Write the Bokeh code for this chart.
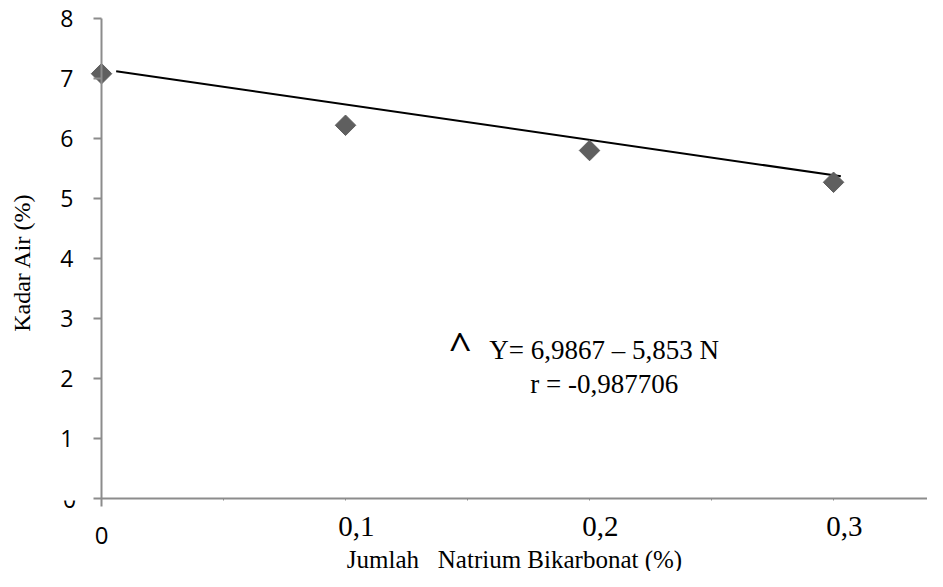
import math
from bokeh.plotting import figure
from bokeh.models import Range1d, FixedTicker, Label
from bokeh.embed import file_html
from bokeh.resources import INLINE

# data
natrium = [0.0, 0.1, 0.2, 0.3]
kadar_air = [7.08, 6.22, 5.80, 5.27]
trend_x = [0.006, 0.303]
trend_y = [7.12, 5.37]
x_ticks = [0.0, 0.1, 0.2, 0.3]
x_tick_labels = {0.0: "", 0.1: "\u00a0\u00a0\u00a00,1", 0.2: "\u00a0\u00a0\u00a00,2", 0.3: "\u00a0\u00a0\u00a00,3"}
y_ticks = [0, 1, 2, 3, 4, 5, 6, 7, 8]
equation = "Y= 6,9867 \u2013 5,853 N"
r_text = "r = -0,987706"

AXIS_GRAY = "#8c8c8c"

# frame covers the whole canvas; axes are pinned at x=0 / y=0
p = figure(width=927, height=571, output_backend="svg", toolbar_location=None,
           x_range=Range1d(-0.0414, 0.3385), y_range=Range1d(-1.2167, 8.3),
           min_border=0, min_border_left=0, min_border_right=0,
           min_border_top=0, min_border_bottom=0)
p.outline_line_color = None
p.grid.visible = False
p.background_fill_color = "white"
p.title.visible = False

# x axis
xa = p.xaxis[0]
xa.fixed_location = 0
xa.bounds = (0, 0.3385)
xa.ticker = FixedTicker(ticks=x_ticks, minor_ticks=[0.05, 0.15, 0.25])
xa.major_label_overrides = x_tick_labels
xa.axis_line_color = AXIS_GRAY
xa.axis_line_width = 2
xa.major_tick_line_color = AXIS_GRAY
xa.major_tick_in = 0
xa.major_tick_out = 2
xa.minor_tick_line_color = AXIS_GRAY
xa.minor_tick_in = 0
xa.minor_tick_out = 2
xa.major_label_text_font = "Liberation Serif"
xa.major_label_text_font_size = "29px"
xa.major_label_text_color = "black"
xa.major_label_standoff = 10
xa.axis_label = "Jumlah\u00a0\u00a0 Natrium Bikarbonat (%)"
xa.axis_label_text_font = "Liberation Serif"
xa.axis_label_text_font_size = "25px"
xa.axis_label_text_font_style = "normal"
xa.axis_label_text_color = "black"
xa.axis_label_standoff = 0

# y axis
ya = p.yaxis[0]
ya.fixed_location = 0
ya.bounds = (-0.14, 8)
ya.ticker = FixedTicker(ticks=y_ticks, minor_ticks=[])
ya.major_label_overrides = {0: ""}
ya.axis_line_color = AXIS_GRAY
ya.axis_line_width = 2
ya.major_tick_line_color = AXIS_GRAY
ya.major_tick_line_width = 2
ya.major_tick_in = 0
ya.major_tick_out = 8
ya.major_label_text_font = "Open Sans"
ya.major_label_text_font_size = "23px"
ya.major_label_text_color = "black"
ya.major_label_standoff = 20
ya.axis_label = "Kadar Air (%)"
ya.axis_label_text_font = "Liberation Serif"
ya.axis_label_text_font_size = "24px"
ya.axis_label_text_font_style = "normal"
ya.axis_label_text_color = "black"
ya.axis_label_standoff = 22

# trend line and points
p.line(trend_x, trend_y, line_color="black", line_width=2)
p.scatter(natrium, kadar_air, marker="square", size=14.5, angle=math.pi / 4,
          fill_color="#5f5f5f", line_color="#5f5f5f")

# x tick "0" in sans
p.add_layout(Label(x=0, y=0, y_offset=-37,
                   text="0", text_align="center", text_baseline="middle",
                   text_font="Open Sans", text_font_size="24px",
                   text_color="black"))
# partially hidden y "0"
p.add_layout(Label(x=-0.0131, y=0, y_offset=-1,
                   text="0", text_align="center", text_baseline="middle",
                   text_font="Open Sans", text_font_size="23px",
                   text_color="black"))
p.add_layout(Label(x=-0.0131, y=0, y_offset=-2,
                   text="\u00a0\u00a0\u00a0", text_align="center", text_baseline="bottom",
                   text_font="Open Sans", text_font_size="23px",
                   background_fill_color="white", text_color="white"))

# annotation texts
p.add_layout(Label(x=0.147, y=2.53, text="^", text_align="center", text_baseline="middle",
                   text_font="Open Sans", text_font_size="40px", text_color="black"))
p.add_layout(Label(x=0.206, y=2.48, text=equation, text_align="center", text_baseline="alphabetic",
                   text_font="Liberation Serif", text_font_size="27px", text_color="black"))
p.add_layout(Label(x=0.206, y=1.90, text=r_text, text_align="center", text_baseline="alphabetic",
                   text_font="Liberation Serif", text_font_size="27px", text_color="black"))

open("out.html", "w").write(file_html(p, INLINE))
